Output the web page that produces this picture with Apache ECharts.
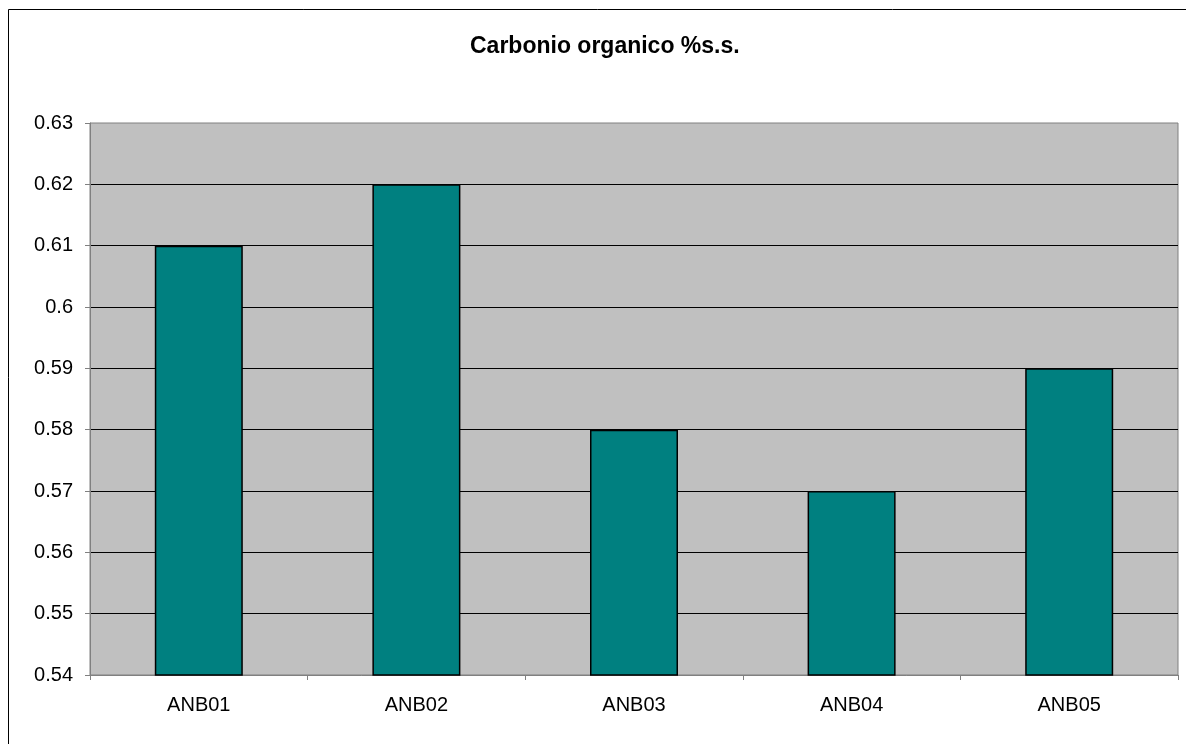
<!DOCTYPE html>
<html>
<head>
<meta charset="utf-8">
<script src="https://cdn.jsdelivr.net/npm/echarts@6/dist/echarts.min.js"></script>
<style>
  html, body { margin: 0; padding: 0; background: #fff; }
  #chart { width: 1186px; height: 744px; }
</style>
</head>
<body>
<div id="chart"></div>
<script>
// dati
const categories = ["ANB01", "ANB02", "ANB03", "ANB04", "ANB05"];
const values = [0.61, 0.62, 0.58, 0.57, 0.59];
const yMin = 0.54;
const yMax = 0.63;
const yStep = 0.01;

const myChart = echarts.init(document.getElementById("chart"));
myChart.setOption({
  animation: false,
  backgroundColor: "#fff",
  title: {
    text: "Carbonio organico %s.s.",
    left: 465,
    top: 30,
    textStyle: {
      fontFamily: "Liberation Sans, Arial",
      fontWeight: "bold",
      fontSize: 23,
      color: "#000",
    },
  },
  graphic: [
    {
      type: "rect",
      shape: { x: 8.5, y: 9.5, width: 1200, height: 800 },
      style: { fill: "none", stroke: "#000", lineWidth: 1 },
      silent: true,
    },
  ],
  grid: {
    left: 90,
    top: 123,
    right: 8,
    bottom: 69,
    show: true,
    backgroundColor: "#C0C0C0",
    borderColor: "#808080",
    borderWidth: 1,
  },
  xAxis: {
    type: "category",
    data: categories,
    axisLine: { lineStyle: { color: "#808080", width: 1 } },
    axisTick: {
      show: true,
      alignWithLabel: false,
      length: 5,
      lineStyle: { color: "#808080" },
    },
    axisLabel: {
      color: "#000",
      fontFamily: "Liberation Sans, Arial",
      fontSize: 20,
      margin: 20,
    },
  },
  yAxis: {
    type: "value",
    min: yMin,
    max: yMax,
    interval: yStep,
    axisLine: { show: true, lineStyle: { color: "#808080", width: 1 } },
    axisTick: { show: true, length: 5, lineStyle: { color: "#808080" } },
    axisLabel: {
      color: "#000",
      fontFamily: "Liberation Sans, Arial",
      fontSize: 20,
      margin: 17,
      formatter: (v) => String(+v.toFixed(2)),
    },
    splitLine: {
      show: true,
      showMinLine: false,
      showMaxLine: false,
      lineStyle: { color: "#000", width: 1 },
    },
  },
  series: [
    {
      type: "bar",
      data: values,
      barWidth: 88,
      itemStyle: {
        color: "#008080",
        borderColor: "#000",
        borderWidth: 1.5,
      },
    },
  ],
});
</script>
</body>
</html>
